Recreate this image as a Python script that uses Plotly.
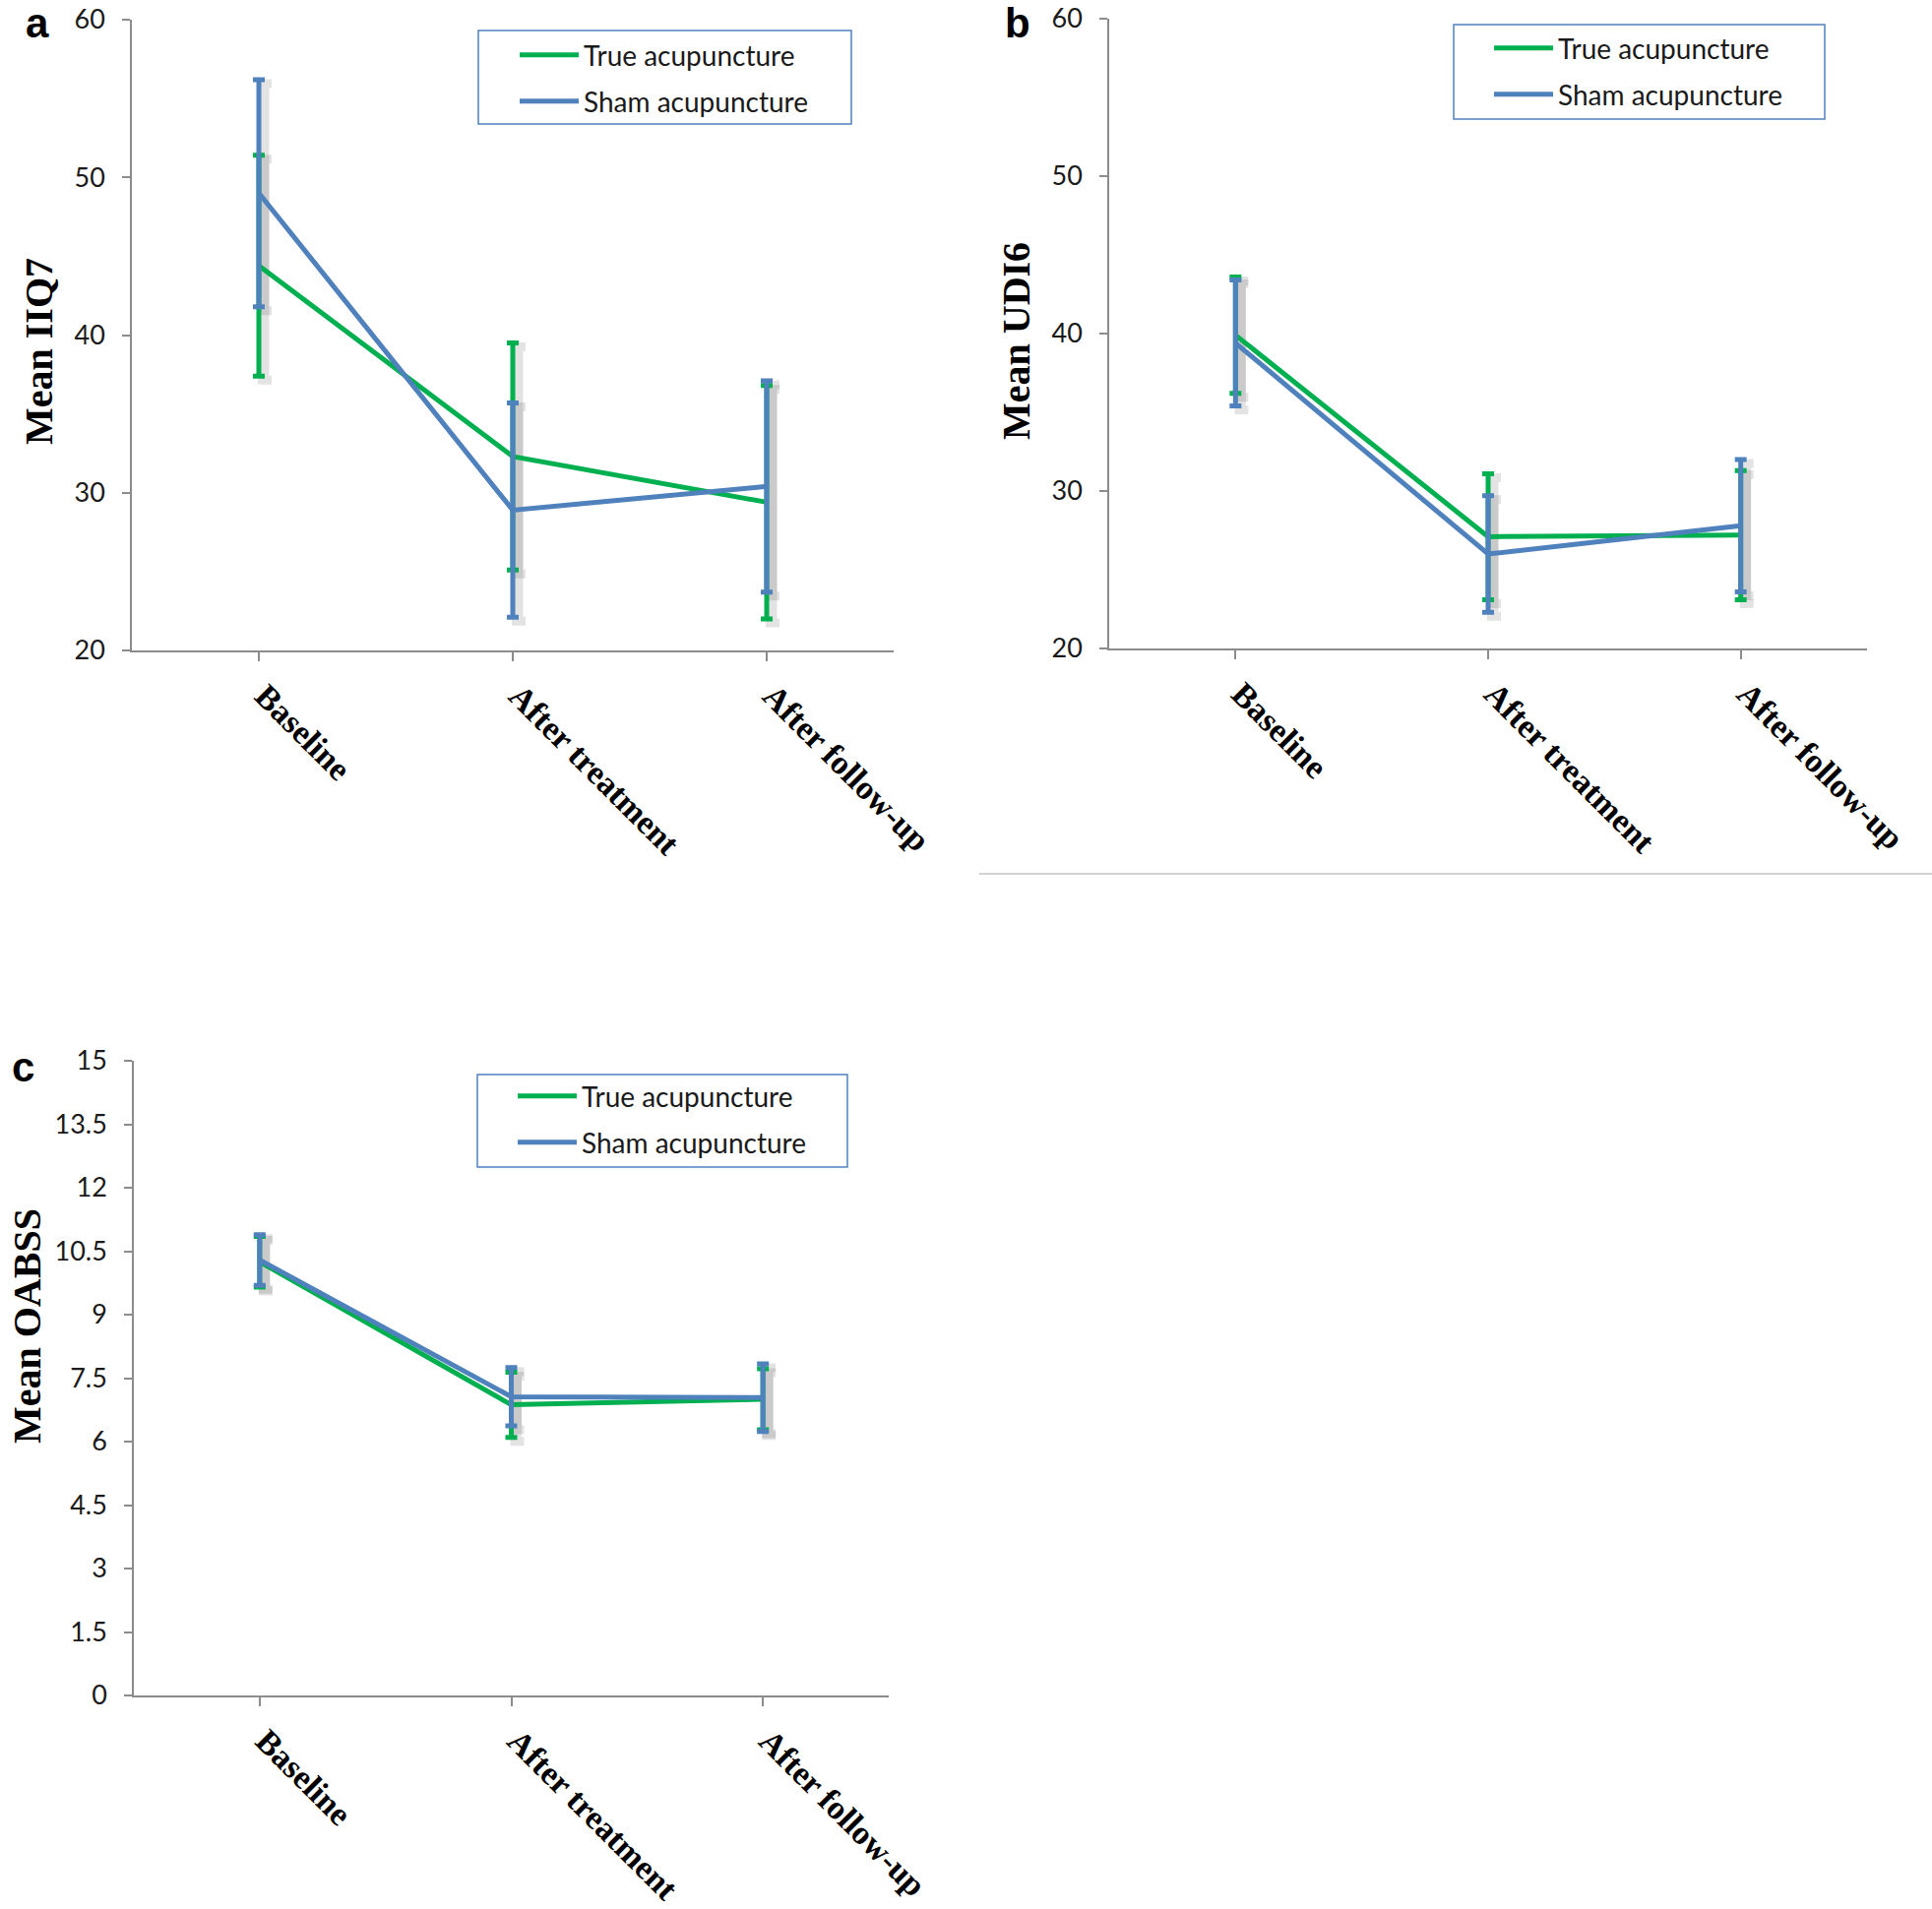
import plotly.graph_objects as go

# ---------------- data ----------------
categories = ["Baseline", "After treatment", "After follow-up"]

iiq7_true = [44.4, 32.3, 29.4]
iiq7_true_err = [7.0, 7.2, 7.4]
iiq7_sham = [49.0, 28.9, 30.4]
iiq7_sham_err = [7.2, 6.8, 6.7]

udi6_true = [39.9, 27.1, 27.2]
udi6_true_err = [3.7, 4.0, 4.1]
udi6_sham = [39.4, 26.0, 27.8]
udi6_sham_err = [4.0, 3.7, 4.2]

oabss_true = [10.25, 6.87, 7.0]
oabss_true_err = [0.6, 0.77, 0.72]
oabss_sham = [10.29, 7.06, 7.04]
oabss_sham_err = [0.6, 0.69, 0.8]

series_names = ["True acupuncture", "Sham acupuncture"]
oabss_ticks = [0, 1.5, 3, 4.5, 6, 7.5, 9, 10.5, 12, 13.5, 15]

# ---------------- style ----------------
W, H = 1963, 1940
GREEN = "#00B050"
BLUE = "#4F81BD"
AXIS = "#8C8C8C"
SANS = "Lato, Liberation Sans, sans-serif"
SERIF = "Liberation Serif, Times New Roman, serif"


def px(x):
    return x / W


def py(y):
    return 1 - y / H


xidx = list(range(len(categories)))

panels = [
    dict(sfx="", t=iiq7_true, te=iiq7_true_err, s=iiq7_sham, se=iiq7_sham_err,
         xd=(134, 908), yd=(20, 661), rng=(20, 60), ticks=[20, 30, 40, 50, 60],
         title="Mean IIQ7", tpos=(39, 357), letter="a", lpos=(38, 24),
         box=(486, 31, 865, 126), items=(56, 103), lx=523),
    dict(sfx="2", t=udi6_true, te=udi6_true_err, s=udi6_sham, se=udi6_sham_err,
         xd=(1127, 1897), yd=(19, 659), rng=(20, 60), ticks=[20, 30, 40, 50, 60],
         title="Mean UDI6", tpos=(1032, 347), letter="b", lpos=(1034, 24),
         box=(1477, 25, 1854, 121), items=(49, 96), lx=1513),
    dict(sfx="3", t=oabss_true, te=oabss_true_err, s=oabss_sham, se=oabss_sham_err,
         xd=(136, 903), yd=(1078, 1723), rng=(0, 15), ticks=oabss_ticks,
         title="Mean OABSS", tpos=(27, 1348), letter="c", lpos=(23, 1084),
         box=(485, 1092, 861, 1186), items=(1114, 1161), lx=521),
]

fig = go.Figure()
layout = dict(
    width=W, height=H, margin=dict(l=0, r=0, t=0, b=0, autoexpand=False),
    paper_bgcolor="white", plot_bgcolor="white",
    showlegend=True, shapes=[], annotations=[],
)

legend_count = 0
for p in panels:
    sfx = p["sfx"]
    xa, ya = "x" + sfx, "y" + sfx
    px_per_unit = (p["yd"][1] - p["yd"][0]) / (p["rng"][1] - p["rng"][0])
    dy = 4 / px_per_unit
    dx = 6 / ((p["xd"][1] - p["xd"][0]) / 3.0)
    # soft shadows of error bars
    for vals, errs in ((p["t"], p["te"]), (p["s"], p["se"])):
        fig.add_trace(go.Scatter(
            x=[i + dx for i in xidx], y=[v - dy for v in vals],
            mode="markers", marker=dict(size=1, color="rgba(0,0,0,0)"),
            error_y=dict(type="data", array=errs, visible=True,
                         color="rgba(0,0,0,0.11)", thickness=9, width=7),
            xaxis=xa, yaxis=ya, showlegend=False, hoverinfo="skip"))
    # main series
    for k, (vals, errs, col) in enumerate(((p["t"], p["te"], GREEN), (p["s"], p["se"], BLUE))):
        legend_count += 1
        lname = "legend" if legend_count == 1 else f"legend{legend_count}"
        fig.add_trace(go.Scatter(
            x=xidx, y=vals, mode="lines", name=series_names[k],
            line=dict(color=col, width=5),
            error_y=dict(type="data", array=errs, visible=True,
                         color=col, thickness=5, width=6),
            xaxis=xa, yaxis=ya, legend=lname))
        layout[lname] = dict(
            x=px(p["lx"]), y=py(p["items"][k]), xanchor="left", yanchor="middle",
            bgcolor="rgba(0,0,0,0)", borderwidth=0, itemwidth=60,
            font=dict(family=SANS, size=28, color="#1a1a1a"),
        )
    xkey = "xaxis" + sfx
    ykey = "yaxis" + sfx
    layout[xkey] = dict(
        domain=[px(p["xd"][0]), px(p["xd"][1])], anchor=ya,
        range=[-0.5, 2.5], tickmode="array",
        tickvals=xidx, ticktext=categories, tickangle=45,
        tickfont=dict(family=SERIF, size=34, color="#000", weight="bold"),
        showline=True, linecolor=AXIS, linewidth=1.5,
        ticks="outside", ticklen=9, tickcolor=AXIS, tickwidth=1.5,
        ticklabelstandoff=2, ticklabelshift=6,
        automargin=False, ticklabeloverflow="allow",
        showgrid=False, zeroline=False, fixedrange=True,
    )
    layout[ykey] = dict(
        domain=[py(p["yd"][1]), py(p["yd"][0])], anchor=xa,
        range=list(p["rng"]), tickmode="array", tickvals=p["ticks"],
        ticktext=[f"{v:g}" for v in p["ticks"]],
        tickfont=dict(family=SANS, size=27, color="#1a1a1a"),
        showline=True, linecolor=AXIS, linewidth=1.5,
        ticks="outside", ticklen=8, tickcolor=AXIS, tickwidth=1.5,
        ticklabelstandoff=12, automargin=False, ticklabeloverflow="allow",
        showgrid=False, zeroline=False, fixedrange=True,
    )
    b = p["box"]
    layout["shapes"].append(dict(
        type="rect", xref="paper", yref="paper",
        x0=px(b[0]), x1=px(b[2]), y0=py(b[3]), y1=py(b[1]),
        line=dict(color=BLUE, width=1.5), fillcolor="rgba(0,0,0,0)", layer="below"))
    layout["annotations"].append(dict(
        text=f"<b>{p['title']}</b>", xref="paper", yref="paper",
        x=px(p["tpos"][0]), y=py(p["tpos"][1]), xanchor="center", yanchor="middle",
        textangle=-90, showarrow=False,
        font=dict(family=SERIF, size=40, color="#000")))
    layout["annotations"].append(dict(
        text=f"<b>{p['letter']}</b>", xref="paper", yref="paper",
        x=px(p["lpos"][0]), y=py(p["lpos"][1]), xanchor="center", yanchor="middle",
        showarrow=False, font=dict(family="Liberation Sans, Arial, sans-serif", size=42, color="#000")))

layout["shapes"].append(dict(
    type="line", xref="paper", yref="paper",
    x0=px(995), x1=1, y0=py(888), y1=py(888),
    line=dict(color="#D0D0D0", width=2)))

fig.update_layout(**layout)
fig.write_html(
    "out.html",
    config={"displayModeBar": False},
    post_script="document.body.style.margin='0px';document.body.style.overflow='hidden';",
)
